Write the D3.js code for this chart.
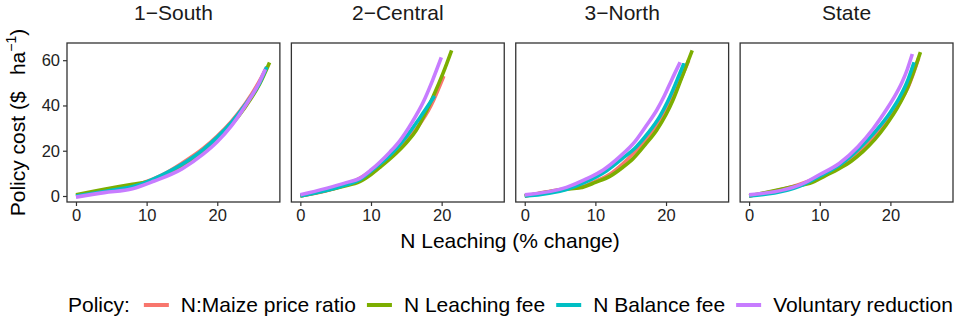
<!DOCTYPE html>
<html>
<head>
<meta charset="utf-8">
<script src="https://cdn.jsdelivr.net/npm/d3@7"></script>
<style>
  body { margin: 0; background: #fff; }
  text { font-family: "Liberation Sans", Arial, sans-serif; }
</style>
</head>
<body>
<div id="chart"></div>
<script>
// regions (facets) and policies
const regions = ["1\u2212South", "2\u2212Central", "3\u2212North", "State"];
const policies = ["N:Maize price ratio", "N Leaching fee", "N Balance fee", "Voluntary reduction"];
const policy_colors = ["#F8766D", "#7CAE00", "#00BFC4", "#C77CFF"];
const x_ticks = [0, 10, 20];
const y_ticks = [0, 20, 40, 60];

// [N leaching % change, policy cost $/ha]
const south_price = [[0,0],[5,2.8],[9,5.3],[12,9],[15,14.5],[18,21],[20,26.5],[22,33],[24,41],[26,51],[27,57]];
const south_leach = [[0,0.5],[4,3],[8,5.2],[10,6.2],[13,10],[15,13.5],[18,19.5],[20,25],[22,31.5],[24,39.5],[26,49.5],[27.4,59]];
const south_balance = [[0,0],[5,2.5],[9,5],[12,9],[15,14],[18,20.5],[20,26],[22,32.5],[24,40.5],[26,50],[27,57]];
const south_volun = [[0,-0.5],[4,1.5],[8,3.2],[11,6.5],[15,12],[18,18.5],[20,24],[22,31],[24,40],[26,50.5],[26.8,56]];

const central_price = [[0,0],[6,4.5],[8.5,8],[11,13.5],[12.5,17],[14,21.5],[16.5,30],[18.5,40],[20.3,53]];
const central_leach = [[0,0],[6,4.2],[8.4,6.3],[10,9.5],[11.2,12.5],[13.6,19],[15,23.5],[16.4,29],[17.6,36],[18.8,44],[20.2,54.3],[21.4,64.3]];
const central_balance = [[0,0],[6.5,4.9],[8.4,7.2],[10,11],[11.2,14],[12.5,17.5],[13.6,21],[15.2,27],[16.9,34.5],[19,44.2]];
const central_volun = [[0,0.5],[6.5,5.9],[8.4,7.8],[10,11.5],[11.2,14.8],[12.7,19.5],[14.1,24.5],[15.8,32.5],[17.4,41.5],[18.7,51],[19.95,61.2]];

const north_price = [[0,0],[5.9,3.2],[7.8,3.8],[10,6.5],[12.1,9.7],[13.8,14],[15.4,18.9],[17,24.5],[18.7,31.4],[20,38],[21,44.7],[22.2,52.5],[23.2,60]];
const north_leach = [[0,0],[5.9,3],[7.8,3.6],[10,6],[12.1,8.8],[13.8,12.5],[15.4,16.7],[17,22.5],[18.7,29.2],[20,36],[21,42.5],[22.2,52.1],[23.7,64.3]];
const north_balance = [[0,0],[5.9,2.9],[8.5,6],[11.6,11.2],[13.8,16.5],[15.8,21.8],[17.5,28],[19.1,35.1],[20.2,41.5],[21,47],[21.8,53],[22.55,58.7]];
const north_volun = [[0,0.5],[5.9,3.8],[8.5,7.2],[11.1,11.5],[13.5,17.5],[15.6,24],[17.2,31],[18.7,38],[19.8,44.5],[20.8,51.3],[22,59.1]];

const state_price = [[0,0],[7,5],[9.5,8],[11.5,11],[13,13.5],[14.5,17],[16,20.5],[17.8,26.5],[19.5,33],[21,40],[22.5,48],[24,61]];
const state_leach = [[0,0],[7,4.6],[8.6,5.6],[10.7,8.8],[12.8,12.2],[14.5,15.5],[16.1,19.6],[17.8,25],[19.4,31.4],[21,39],[22.3,46.9],[23.3,55],[24.25,63.6]];
const state_balance = [[0,0],[7.2,4.4],[10,8.8],[12.8,13.7],[14.5,17.8],[16.1,22.6],[18,29],[19.9,36.6],[21.2,43],[22.3,49.9],[23.35,59.1]];
const state_volun = [[0,0.5],[7.2,4.9],[10,9.5],[12.8,14.5],[15.4,21.8],[17.5,29.5],[19.4,38],[20.6,44],[21.6,49.9],[22.4,56],[23.1,62.7]];

const panel_data = [
  [south_price, south_leach, south_balance, south_volun],
  [central_price, central_leach, central_balance, central_volun],
  [north_price, north_leach, north_balance, north_volun],
  [state_price, state_leach, state_balance, state_volun]
];

const width = 957, height = 320;
const plot_left = 67, plot_right = 953, panel_top = 43, panel_bottom = 202, panel_gap = 11.5;
const panel_width = (plot_right - plot_left - panel_gap * 3) / 4;

const svg = d3.select("#chart").append("svg")
  .attr("width", width)
  .attr("height", height);

const x = d3.scaleLinear().domain([-1.27, 28.86]).range([0, panel_width]);
const y = d3.scaleLinear().domain([-2.65, 67.6]).range([panel_bottom, panel_top]);

const line = d3.line()
  .x(d => x(d[0]))
  .y(d => y(d[1]))
  .curve(d3.curveMonotoneX);

regions.forEach((region, i) => {
  const px = plot_left + i * (panel_width + panel_gap);
  const g = svg.append("g").attr("transform", "translate(" + px + ",0)");

  // strip title
  g.append("text")
    .attr("x", panel_width / 2)
    .attr("y", 20)
    .attr("text-anchor", "middle")
    .style("font-size", "21px")
    .style("fill", "#1a1a1a")
    .text(region);

  // lines
  panel_data[i].forEach((series, j) => {
    g.append("path")
      .datum(series)
      .attr("d", line)
      .attr("fill", "none")
      .attr("stroke", policy_colors[j])
      .attr("stroke-width", 3.6)
      .attr("stroke-linejoin", "round");
  });

  // border
  g.append("rect")
    .attr("x", 0)
    .attr("y", panel_top)
    .attr("width", panel_width)
    .attr("height", panel_bottom - panel_top)
    .attr("fill", "none")
    .attr("stroke", "#333")
    .attr("stroke-width", 1.3);

  // x axis
  const xa = g.append("g")
    .attr("transform", "translate(0," + panel_bottom + ")")
    .call(d3.axisBottom(x).tickValues(x_ticks).tickSize(4).tickPadding(3).tickFormat(d3.format("d")));
  xa.select(".domain").remove();
  xa.selectAll("line").attr("stroke", "#333").attr("stroke-width", 1.2);
  xa.selectAll("text").style("font-size", "16.5px").style("fill", "#222");

  if (i === 0) {
    const ya = g.append("g")
      .call(d3.axisLeft(y).tickValues(y_ticks).tickSize(4).tickPadding(3));
    ya.select(".domain").remove();
    ya.selectAll("line").attr("stroke", "#333").attr("stroke-width", 1.2);
    ya.selectAll("text").style("font-size", "16.5px").style("fill", "#222");
  }
});

// axis titles
svg.append("text")
  .attr("x", (plot_left + plot_right) / 2)
  .attr("y", 248)
  .attr("text-anchor", "middle")
  .style("font-size", "21px")
  .text("N Leaching (% change)");

const ytitle = svg.append("text")
  .attr("transform", "translate(25," + (panel_top + panel_bottom) / 2 + ") rotate(-90)")
  .attr("text-anchor", "middle")
  .style("font-size", "21px");
ytitle.append("tspan").text("Policy cost ($\u2002 ha");
ytitle.append("tspan").attr("dy", -9).style("font-size", "14px").text("\u22121");
ytitle.append("tspan").attr("dy", 9).text(")");

// legend
const legend = svg.append("g");
let lx = 68;
const ly = 312;
const lab = legend.append("text").attr("x", lx).attr("y", ly).style("font-size", "21px").text("Policy:");
lx += lab.node().getComputedTextLength() + 14;
policies.forEach((p, j) => {
  legend.append("line")
    .attr("x1", lx).attr("x2", lx + 25)
    .attr("y1", ly - 7).attr("y2", ly - 7)
    .attr("stroke", policy_colors[j])
    .attr("stroke-width", 4);
  lx += 25 + 12;
  const t = legend.append("text").attr("x", lx).attr("y", ly).style("font-size", "21px").text(p);
  lx += t.node().getComputedTextLength() + 11;
});
</script>
</body>
</html>
